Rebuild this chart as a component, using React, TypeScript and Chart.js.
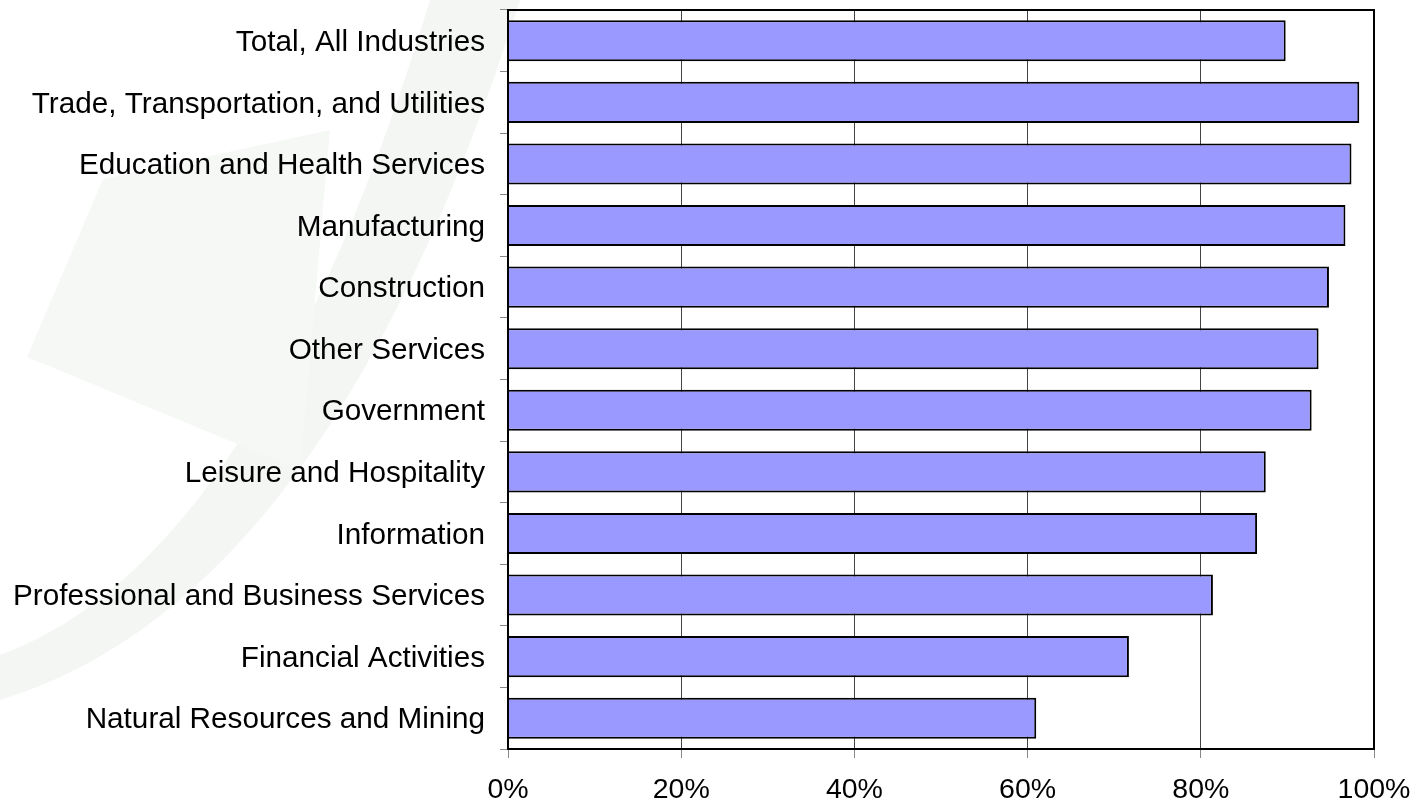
import React, { useEffect, useRef } from "react";
import { Chart, registerables } from "chart.js";

Chart.register(...registerables);

const categories = [
  "Total, All Industries",
  "Trade, Transportation, and Utilities",
  "Education and Health Services",
  "Manufacturing",
  "Construction",
  "Other Services",
  "Government",
  "Leisure and Hospitality",
  "Information",
  "Professional and Business Services",
  "Financial Activities",
  "Natural Resources and Mining",
];

const values = [89.8, 98.3, 97.4, 96.7, 94.8, 93.6, 92.8, 87.5, 86.5, 81.4, 71.7, 61.0];

const xMin = 0;
const xMax = 100;
const xStep = 20;

const FONT = "Arial, 'Liberation Sans', Helvetica, sans-serif";

const backdropPlugin = {
  id: "backdrop",
  beforeDraw(chart: any) {
    const ctx = chart.ctx;
    ctx.save();
    ctx.fillStyle = "#ffffff";
    ctx.fillRect(0, 0, chart.width, chart.height);
    // faint decorative swoosh watermark
    ctx.fillStyle = "#f4f6f4";
    ctx.beginPath();
    ctx.moveTo(0, 655);
    ctx.quadraticCurveTo(260, 560, 430, 0);
    ctx.lineTo(520, 0);
    ctx.quadraticCurveTo(330, 600, 0, 700);
    ctx.closePath();
    ctx.fill();
    ctx.fillStyle = "#f6f8f6";
    ctx.beginPath();
    ctx.moveTo(27, 357);
    ctx.lineTo(103, 179);
    ctx.lineTo(330, 130);
    ctx.lineTo(300, 470);
    ctx.closePath();
    ctx.fill();
    ctx.restore();
  },
};

const framePlugin = {
  id: "frame",
  afterDatasetsDraw(chart: any) {
    const { ctx, chartArea } = chart;
    ctx.save();
    ctx.strokeStyle = "#000000";
    ctx.lineWidth = 2;
    ctx.strokeRect(chartArea.left, chartArea.top, chartArea.right - chartArea.left, chartArea.bottom - chartArea.top);
    ctx.restore();
  },
};

export default function App() {
  const ref = useRef<HTMLCanvasElement | null>(null);

  useEffect(() => {
    if (!ref.current) return;
    const chart = new Chart(ref.current, {
      type: "bar",
      data: {
        labels: categories,
        datasets: [
          {
            data: values,
            backgroundColor: "#9999FF",
            borderColor: "#000000",
            borderWidth: 2,
            barPercentage: 0.667,
            categoryPercentage: 1,
          },
        ],
      },
      plugins: [backdropPlugin, framePlugin],
      options: {
        indexAxis: "y",
        animation: false,
        responsive: false,
        maintainAspectRatio: false,
        layout: { padding: { top: 10, right: 42, left: 0, bottom: 0 } },
        plugins: {
          legend: { display: false },
          tooltip: { enabled: false },
          title: { display: false },
        },
        scales: {
          x: {
            min: xMin,
            max: xMax,
            ticks: {
              stepSize: xStep,
              color: "#000000",
              font: { family: FONT, size: 28.5 },
              padding: 15,
              maxRotation: 0,
              callback: (v: any) => `${v}%`,
            },
            grid: {
              color: "#444444",
              lineWidth: 1,
              tickLength: 9,
              tickColor: "#888888",
              drawTicks: true,
            },
            border: { color: "#000000", width: 2 },
            afterFit: (scale: any) => {
              scale.height = 57;
              scale.paddingLeft = 0;
              scale.paddingRight = 0;
            },
          },
          y: {
            ticks: {
              color: "#000000",
              font: { family: FONT, size: 29.7 },
              padding: 15,
              labelOffset: 2,
              autoSkip: false,
            },
            grid: {
              offset: true,
              drawOnChartArea: false,
              drawTicks: true,
              tickLength: 8,
              tickColor: "#888888",
            },
            border: { color: "#000000", width: 2 },
            afterFit: (scale: any) => {
              scale.width = 508;
              scale.paddingTop = 0;
              scale.paddingBottom = 0;
            },
          },
        },
      },
    });
    return () => chart.destroy();
  }, []);

  return (
    <div style={{ position: "fixed", left: 0, top: 0, width: 1416, height: 806, background: "#fff" }}>
      <canvas ref={ref} width={1416} height={806} style={{ width: 1416, height: 806, display: "block" }} />
    </div>
  );
}
